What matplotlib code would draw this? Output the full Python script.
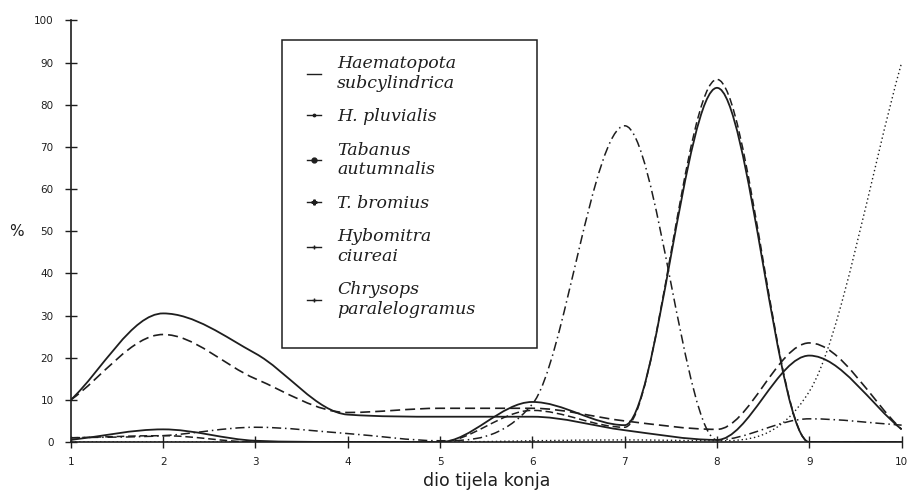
import numpy as np
import matplotlib
matplotlib.use('Agg')
import matplotlib.pyplot as plt
from matplotlib.path import Path
from matplotlib.patches import PathPatch, Rectangle
from matplotlib.lines import Line2D

# dio tijela konja (1..10)
x = [1, 2, 3, 4, 5, 6, 7, 8, 9, 10]

haem_subcyl = [10, 30.5, 21, 6.5, 6, 6, 2.8, 0.5, 20.5, 3]
h_pluvialis = [10, 25.5, 15, 7, 8, 8, 5, 3, 23.5, 3]
tab_autumn = [1, 1.5, 3.5, 2, 0.3, 9, 75, 0.5, 5.5, 4]
t_bromius = [0.5, 3, 0.3, 0, 0, 9.5, 4, 84, 0, 0]
hyb_ciureai = [1, 1.5, 0, 0, 0, 7.5, 3.5, 86, 0, 0]
chrysops = [0, 0, 0, 0, 0, 0.3, 0.5, 0.3, 12, 90]

labels = ['Haematopota\nsubcylindrica', 'H. pluvialis', 'Tabanus\nautumnalis',
          'T. bromius', 'Hybomitra\nciureai', 'Chrysops\nparalelogramus']
series = [haem_subcyl, h_pluvialis, tab_autumn, t_bromius, hyb_ciureai, chrysops]
styles = ['-', (0, (6, 3)), (0, (6, 2.5, 1, 2.5)), '-', (0, (5, 2.5)), (0, (1, 2))]
widths = [1.3, 1.2, 1.1, 1.3, 1.1, 1.0]
leg_markers = ['', '.', 'o', 'P', '+', '+']


def smooth_path(xs, ys):
    # monotone cubic (bezier) through the measured points
    xs = np.asarray(xs, float)
    ys = np.asarray(ys, float)
    n = len(xs)
    d = np.diff(ys) / np.diff(xs)
    m = np.zeros(n)
    m[0] = d[0]
    m[-1] = d[-1]
    for i in range(1, n - 1):
        if d[i - 1] * d[i] > 0:
            m[i] = (d[i - 1] + d[i]) / 2
    for k in range(n - 1):
        if d[k] == 0:
            m[k] = 0
            m[k + 1] = 0
        else:
            a = m[k] / d[k]
            b = m[k + 1] / d[k]
            s = a * a + b * b
            if s > 9:
                t = 3 / np.sqrt(s)
                m[k] = t * a * d[k]
                m[k + 1] = t * b * d[k]
    verts = [(xs[0], ys[0])]
    codes = [Path.MOVETO]
    for k in range(n - 1):
        h = xs[k + 1] - xs[k]
        verts += [(xs[k] + h / 3, ys[k] + m[k] * h / 3),
                  (xs[k + 1] - h / 3, ys[k + 1] - m[k + 1] * h / 3),
                  (xs[k + 1], ys[k + 1])]
        codes += [Path.CURVE4] * 3
    return Path(verts, codes)


fig = plt.figure(figsize=(9.08, 4.92), dpi=100)
ax = fig.add_axes([0.078, 0.1016, 0.915, 0.857])

ink = '#1e1e1e'
handles = []
for ys, ls, lw, lab, mk in zip(series, styles, widths, labels, leg_markers):
    patch = PathPatch(smooth_path(x, ys), fill=False, edgecolor=ink,
                      linestyle=ls, linewidth=lw)
    ax.add_patch(patch)
    handles.append(Line2D([], [], color=ink, linestyle='-', linewidth=1.0,
                          marker=mk, markersize=3.5, label=lab))

ax.set_xlim(1, 10)
ax.set_ylim(0, 100)
ax.set_xticks(x)
ax.set_yticks(range(0, 101, 10))
ax.tick_params(direction='inout', length=9, width=1, colors=ink,
               labelsize=7.5)
ax.tick_params(axis='y', pad=8)
ax.tick_params(axis='x', pad=6)
for s in ['top', 'right']:
    ax.spines[s].set_visible(False)
for s in ['left', 'bottom']:
    ax.spines[s].set_color(ink)
    ax.spines[s].set_linewidth(1.2)

ax.set_xlabel('dio tijela konja', fontsize=12.5, color=ink)
ax.xaxis.set_label_coords(0.5, -0.072)
ax.set_ylabel('%', fontsize=11, color=ink, rotation=0, va='center')
ax.yaxis.set_label_coords(-0.066, 0.5)

# legend frame
ax.add_patch(Rectangle((0.254, 0.2230), 0.561 - 0.254, 0.9535 - 0.2230,
                       transform=ax.transAxes, fill=True, facecolor='white',
                       edgecolor=ink, linewidth=1.1, zorder=4))
leg = ax.legend(handles=handles, loc='upper left', bbox_to_anchor=(0.284, 0.918),
                frameon=False, handlelength=0.8, handletextpad=0.95,
                labelspacing=0.95, borderpad=0, borderaxespad=0,
                prop={'family': 'DejaVu Serif', 'style': 'italic', 'size': 12.5})
leg.set_zorder(5)
for t in leg.get_texts():
    t.set_color(ink)

fig.savefig('out.png', dpi=100, facecolor='white')
